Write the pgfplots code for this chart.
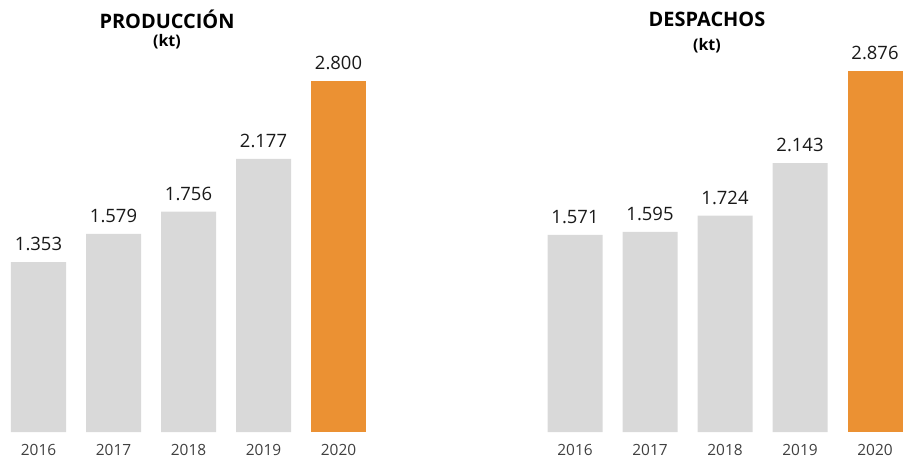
\documentclass[border=0pt]{standalone}
\usepackage{fontspec}
\setmainfont{Open Sans}
\usepackage{pgfplots}
\pgfplotsset{compat=1.18}
\definecolor{barg}{HTML}{D9D9D9}
\definecolor{baro}{HTML}{EB9133}
\definecolor{yeartxt}{HTML}{404040}
\pgfplotsset{
  panel/.style={
    scale only axis,
    anchor=south west,
    x=75bp, y=0.1255bp,
    xmin=-0.5, xmax=4.5, ymin=0, ymax=3000,
    axis x line=bottom, axis y line=none,
    x axis line style={draw=none},
    major tick length=0pt,
    ytick=\empty,
    xtick={0,1,2,3,4},
    xticklabels={2016,2017,2018,2019,2020},
    xticklabel style={font=\fontsize{15.5}{17}\selectfont, text=yeartxt, anchor=north, yshift=-9bp},
    clip=false,
    ybar, bar width=55bp, bar shift=0pt,
    point meta=explicit symbolic,
    nodes near coords,
    nodes near coords style={font=\fontsize{18.5}{20}\selectfont, text=black!90, anchor=south, inner sep=0pt, yshift=11bp},
  }
}
\begin{document}
\begin{tikzpicture}
\useasboundingbox (0,0) rectangle (906bp,464bp);
\begin{axis}[panel, at={(1bp,32bp)}]
\addplot[fill=barg, draw=none] coordinates {(0,1353) [1.353] (1,1579) [1.579] (2,1756) [1.756] (3,2177) [2.177]};
\addplot[fill=baro, draw=none] coordinates {(4,2800) [2.800]};
\end{axis}
\begin{axis}[panel, at={(537.5bp,32bp)}]
\addplot[fill=barg, draw=none] coordinates {(0,1571) [1.571] (1,1595) [1.595] (2,1724) [1.724] (3,2143) [2.143]};
\addplot[fill=baro, draw=none] coordinates {(4,2876) [2.876]};
\end{axis}
\node[font=\bfseries\fontsize{20}{22}\selectfont] at (167bp,445bp) {PRODUCCIÓN};
\node[font=\bfseries\fontsize{16}{18}\selectfont] at (167bp,422bp) {(kt)};
\node[font=\bfseries\fontsize{20}{22}\selectfont] at (707bp,445bp) {DESPACHOS};
\node[font=\bfseries\fontsize{16}{18}\selectfont] at (707bp,418bp) {(kt)};
\end{tikzpicture}
\end{document}
